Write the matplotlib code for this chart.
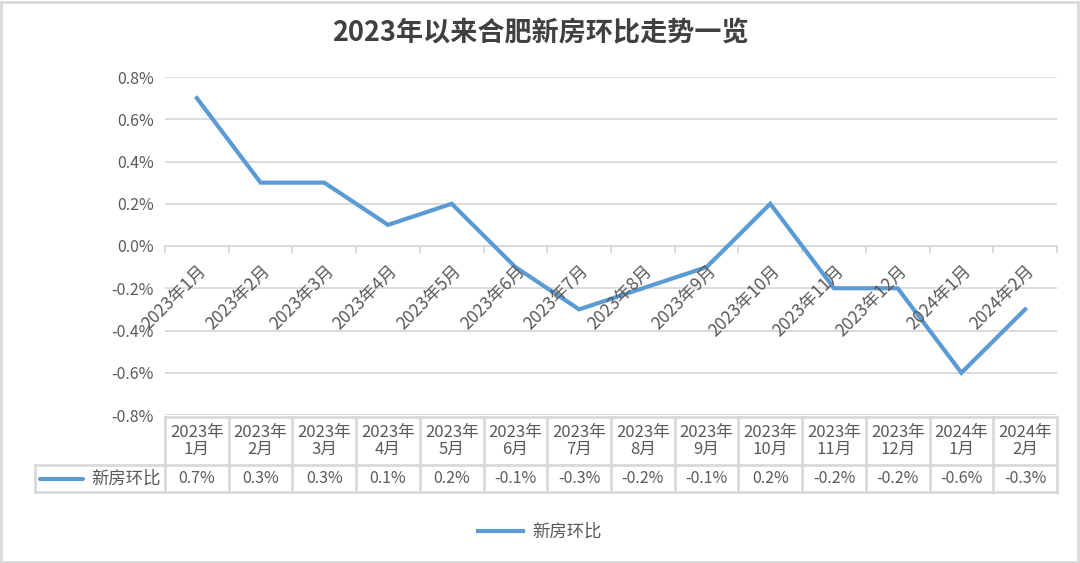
import matplotlib
matplotlib.use("Agg")
import matplotlib.pyplot as plt
import matplotlib.transforms as mtransforms
from matplotlib.patches import Rectangle

plt.rcParams['font.family'] = ['Noto Sans CJK SC', 'DejaVu Sans']

title = "2023年以来合肥新房环比走势一览"
series_name = "新房环比"
years = ["2023", "2023", "2023", "2023", "2023", "2023", "2023",
         "2023", "2023", "2023", "2023", "2023", "2024", "2024"]
months = ["1", "2", "3", "4", "5", "6", "7", "8", "9", "10", "11", "12", "1", "2"]
mom_change = [0.7, 0.3, 0.3, 0.1, 0.2, -0.1, -0.3, -0.2, -0.1, 0.2, -0.2, -0.2, -0.6, -0.3]
y_ticks = [-0.8, -0.6, -0.4, -0.2, 0.0, 0.2, 0.4, 0.6, 0.8]

line_color = "#5b9bd5"
grid_color = "#d9d9d9"
text_color = "#595959"

W, H = 1080, 563
fig = plt.figure(figsize=(W / 100, H / 100), dpi=100)
ax = fig.add_axes([165 / W, (H - 415) / H, 892 / W, 338 / H])

n = len(mom_change)
xs = list(range(n))
ax.plot(xs, mom_change, color=line_color, lw=3, solid_joinstyle='miter', zorder=3)

ax.set_xlim(-0.5, n - 0.5)
ax.set_ylim(-0.8, 0.8)
ax.set_yticks(y_ticks)
ax.set_yticklabels([f"{v:.1f}%" for v in y_ticks], fontsize=11.5, color=text_color)
ax.tick_params(axis='y', length=0, pad=8)
ax.yaxis.grid(True, color=grid_color, lw=1.3)
ax.set_axisbelow(True)
for s in ['top', 'right', 'left']:
    ax.spines[s].set_visible(False)
ax.spines['bottom'].set_position(('data', 0))
ax.spines['bottom'].set_color(grid_color)
ax.spines['bottom'].set_linewidth(1.3)
ax.set_xticks([i - 0.5 for i in range(n + 1)])
ax.set_xticklabels([])
ax.tick_params(axis='x', length=5, color=grid_color, width=1.3, direction='out')

# rotated category labels under the zero line
for i in xs:
    lab = f"{years[i]}年{months[i]}月"
    ax.annotate(lab, xy=(i, 0), xytext=(5, -16), textcoords='offset points',
                rotation=45, rotation_mode='anchor', ha='right', va='center',
                fontsize=12.5, color=text_color)

# data table under the plot
tr = mtransforms.blended_transform_factory(ax.transData, ax.transAxes)
y_top = -2 / 338
y_mid = -50 / 338
y_bot = -77 / 338
px = lambda p: (p - 165) / (892 / n) - 0.5
leg_left = px(35)
tbl_kw = dict(color=grid_color, lw=2, transform=tr, clip_on=False)
ax.plot([-0.5, n - 0.5], [y_top, y_top], **tbl_kw)
ax.plot([leg_left, n - 0.5], [y_mid, y_mid], **tbl_kw)
ax.plot([leg_left, n - 0.5], [y_bot, y_bot], **tbl_kw)
ax.plot([leg_left, leg_left], [y_mid, y_bot], **tbl_kw)
for i in range(n + 1):
    ax.plot([i - 0.5, i - 0.5], [y_top, y_bot], **tbl_kw)
for i in xs:
    ax.text(i, (y_top + y_mid) / 2, f"{years[i]}年\n{months[i]}月", transform=tr,
            ha='center', va='center', fontsize=12, color=text_color,
            linespacing=1.05, clip_on=False)
    ax.text(i, (y_mid + y_bot) / 2, f"{mom_change[i]:.1f}%", transform=tr,
            ha='center', va='center', fontsize=11.5, color=text_color, clip_on=False)
ax.plot([px(40), px(83)], [(y_mid + y_bot) / 2] * 2, color=line_color, lw=3,
        transform=tr, clip_on=False, solid_capstyle='round')
ax.text(px(161), (y_mid + y_bot) / 2, series_name, transform=tr, ha='right',
        va='center', fontsize=12.5, color=text_color, clip_on=False)

# legend at the bottom
handle = plt.Line2D([], [], color=line_color, lw=3)
fig.legend([handle], [series_name], loc='center', bbox_to_anchor=(0.5, 1 - 532 / H),
           frameon=False, handlelength=2.6, handletextpad=0.5, fontsize=12.5,
           labelcolor=text_color)

fig.text(0.5, 1 - 33 / H, title, ha='center', va='center', fontsize=19.5,
         fontweight='bold', color='#404040')

fig.patches.append(Rectangle((0.001, 0.002), 0.997, 0.995, transform=fig.transFigure,
                             fill=False, edgecolor=grid_color, lw=2))

fig.savefig("out.png", dpi=100)
